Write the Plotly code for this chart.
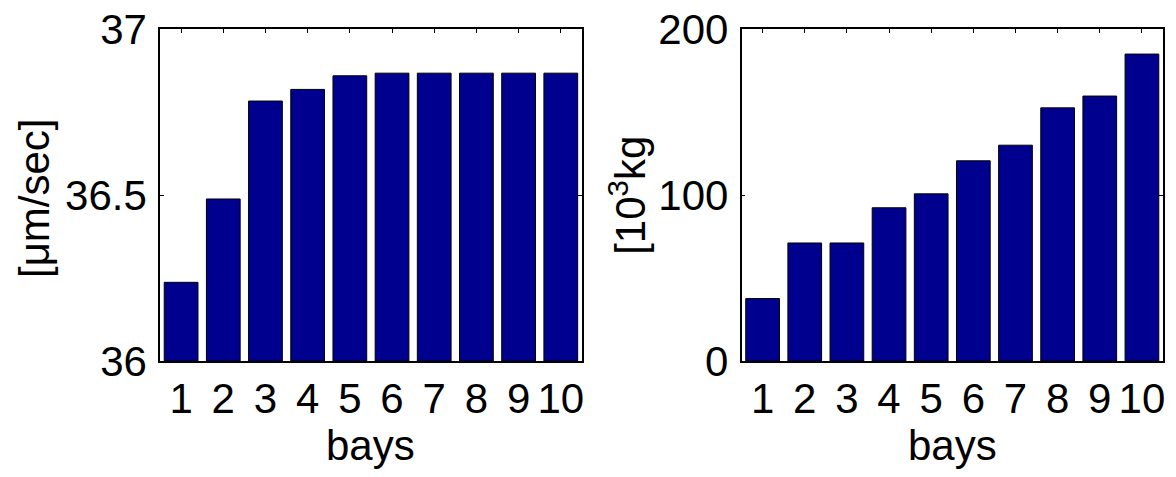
import plotly.graph_objects as go

bays = [1, 2, 3, 4, 5, 6, 7, 8, 9, 10]
speed = [36.237, 36.488, 36.783, 36.818, 36.859, 36.867, 36.867, 36.867, 36.867, 36.867]
mass = [37.6, 71.1, 71.1, 92.3, 100.7, 120.6, 130.0, 152.5, 159.6, 184.9]

left_ticks = [36, 36.5, 37]
left_ticklabels = ["36", "36.5", "37"]
right_ticks = [0, 100, 200]
right_ticklabels = ["0", "100", "200"]

BAR = "#00008F"
FONT = dict(family="Liberation Sans, Arial, Helvetica, sans-serif", size=42, color="black")

# the page body has an 8px margin; figure is sized to fill the rest of the window
OFF = 8
FW, FH = 1176 - OFF, 477 - OFF
ML, MR, MT, MB = 160 - OFF, 12.7, 29 - OFF, 116
W = FW - ML - MR
H = FH - MT - MB


def px(x):
    return (x - OFF - ML) / W


def py(y):
    return (FH - MB - (y - OFF)) / H


BASE = 36
fig = go.Figure()
fig.add_trace(go.Bar(x=bays, y=[v - BASE for v in speed], base=BASE, width=0.8,
                     xaxis="x", yaxis="y",
                     marker=dict(color=BAR, line=dict(color="black", width=1)),
                     showlegend=False, hoverinfo="skip"))
fig.add_trace(go.Bar(x=bays, y=mass, width=0.8, xaxis="x2", yaxis="y2",
                     marker=dict(color=BAR, line=dict(color="black", width=1)),
                     showlegend=False, hoverinfo="skip"))

axcommon = dict(showline=True, linecolor="black", linewidth=1.5, mirror="ticks",
                ticks="inside", ticklen=4, tickwidth=1, tickcolor="black",
                showgrid=False, zeroline=False, tickfont=FONT, layer="below traces",
                automargin=False, ticklabeloverflow="allow")

fig.update_layout(
    width=FW, height=FH,
    margin=dict(l=ML, r=MR, t=MT, b=MB),
    paper_bgcolor="white", plot_bgcolor="white",
    font=FONT,
    xaxis=dict(domain=[0, px(582)], range=[0.5, 10.5], tickvals=bays,
               ticktext=[str(b) for b in bays], anchor="y", ticklabelstandoff=0, **axcommon),
    yaxis=dict(domain=[0, 1], range=[36, 37], tickvals=left_ticks,
               ticktext=left_ticklabels, anchor="x", ticklabelstandoff=3, **axcommon),
    xaxis2=dict(domain=[px(741.7), 1], range=[0.5, 10.5], tickvals=bays,
                ticktext=[str(b) for b in bays], anchor="y2", ticklabelstandoff=0, **axcommon),
    yaxis2=dict(domain=[0, 1], range=[0, 200], tickvals=right_ticks,
                ticktext=right_ticklabels, anchor="x2", ticklabelstandoff=3, **axcommon),
)

annots = [
    dict(text="bays", x=px(371), y=py(445), textangle=0),
    dict(text="bays", x=px(952.5), y=py(445), textangle=0),
    dict(text="[μm/sec]", x=px(34), y=py(198), textangle=-90),
    dict(text="[10<sup>3</sup>kg", x=px(628), y=py(195), textangle=-90),
]
for a in annots:
    fig.add_annotation(xref="paper", yref="paper", xanchor="center", yanchor="middle",
                       showarrow=False, font=FONT, **a)

fig.write_html("out.html")
